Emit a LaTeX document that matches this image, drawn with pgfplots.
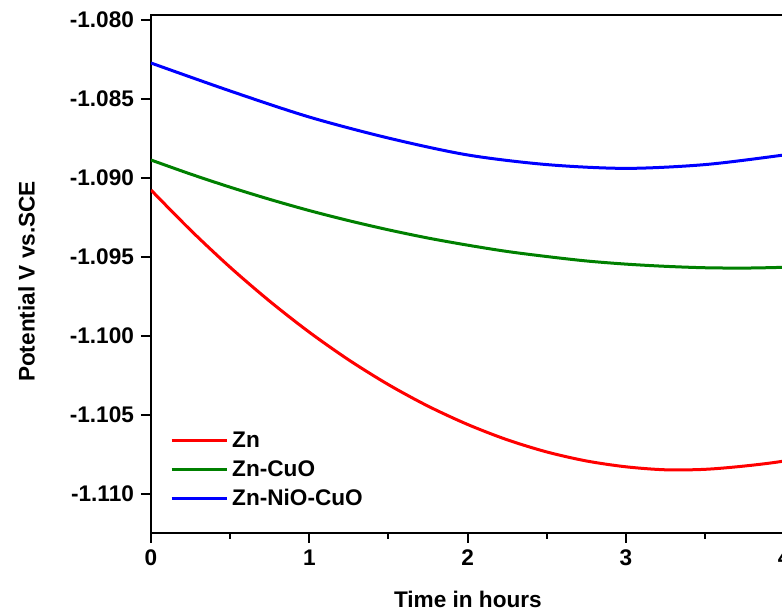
\documentclass[border=0pt]{standalone}
\usepackage{pgfplots}
\pgfplotsset{compat=1.18}
\usepackage{fontspec}
\setmainfont{Liberation Sans}
\definecolor{cred}{RGB}{255,0,0}
\definecolor{cgreen}{RGB}{0,128,0}
\definecolor{cblue}{RGB}{0,0,255}
\newcommand{\ff}{\fontsize{11.3}{13.6}\selectfont\bfseries}
\begin{document}
\begin{tikzpicture}
\begin{axis}[
  name=ax,
  at={(0,0)}, anchor=south west,
  scale only axis,
  width=336.4pt, height=259pt,
  xmin=0, xmax=4.25,
  ymin=-1.11247, ymax=-1.07968,
  xtick={0,1,2,3,4},
  minor xtick={0.5,1.5,2.5,3.5},
  ytick={-1.110,-1.105,-1.100,-1.095,-1.090,-1.085,-1.080},
  tick pos=left,
  tick align=outside,
  major tick length=5pt,
  minor tick length=3pt,
  every tick/.style={black, line width=1pt},
  axis line style={line width=1pt},
  yticklabel style={/pgf/number format/.cd, fixed, fixed zerofill, precision=3},
  /pgf/number format/assume math mode=true,
  tick label style={font=\ff},
  label style={font=\ff},
  xlabel={Time in hours},
  ylabel={Potential V vs.SCE},
  xlabel style={at={(axis description cs:0.471,-0.1429)}, anchor=base},
  ylabel style={at={(axis description cs:-0.162,0.4855)}, anchor=south},
  legend style={at={(0.028,0.2027)}, anchor=north west, draw=none, fill=none,
    inner sep=0pt, font=\ff, row sep=2pt, column sep=1pt,
    nodes={inner sep=1pt, text height=8.5pt, text depth=2pt}},
  legend cell align=left,
  legend image code/.code={\draw[#1] (0pt,0pt) -- (27.5pt,0pt);},
]
\addplot[cred, line width=1.5pt, smooth] coordinates {
(0,-1.09076) (0.25,-1.09330) (0.5,-1.09565) (0.75,-1.09780) (1,-1.09976)
(1.25,-1.10152) (1.5,-1.10308) (1.75,-1.10444) (2,-1.10560) (2.25,-1.10657)
(2.5,-1.10734) (2.75,-1.10791) (3,-1.10828) (3.25,-1.10847) (3.5,-1.10844)
(3.75,-1.10823) (4,-1.10791) (4.25,-1.10734)};
\addlegendentry{Zn}
\addplot[cgreen, line width=1.5pt, smooth] coordinates {
(0,-1.08886) (0.25,-1.08975) (0.5,-1.09058) (0.75,-1.09135) (1,-1.09206)
(1.25,-1.09270) (1.5,-1.09328) (1.75,-1.09380) (2,-1.09425) (2.25,-1.09465)
(2.5,-1.09497) (2.75,-1.09525) (3,-1.09545) (3.25,-1.09559) (3.5,-1.09568)
(3.75,-1.09570) (4,-1.09565) (4.25,-1.09554)};
\addlegendentry{Zn-CuO}
\addplot[cblue, line width=1.5pt, smooth] coordinates {
(0,-1.08272) (0.5,-1.08449) (1,-1.08614) (1.5,-1.08747) (2,-1.08854)
(2.5,-1.08915) (3,-1.08939) (3.5,-1.08915) (4,-1.08854) (4.25,-1.08816)};
\addlegendentry{Zn-NiO-CuO}
\end{axis}
\pgfresetboundingbox
\useasboundingbox ([xshift=-75.5pt,yshift=-40pt]ax.south west) rectangle ([xshift=315.5pt,yshift=266.5pt]ax.south west);
\end{tikzpicture}
\end{document}
